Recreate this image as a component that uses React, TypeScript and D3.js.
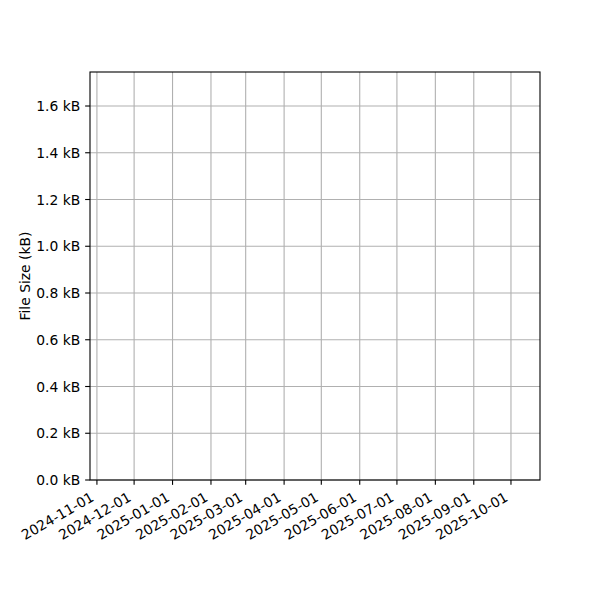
import React from "react";
import * as d3 from "d3";

// Data (the reference plot shows no visible series)
const dates: string[] = [];
const sizesKB: number[] = [];

const xTickLabels = [
  "2024-11-01", "2024-12-01", "2025-01-01", "2025-02-01", "2025-03-01", "2025-04-01",
  "2025-05-01", "2025-06-01", "2025-07-01", "2025-08-01", "2025-09-01", "2025-10-01",
];
const yTickValues = [0, 0.2, 0.4, 0.6, 0.8, 1.0, 1.2, 1.4, 1.6];
const xDomain = ["2024-10-26T10:00:00", "2025-10-24T10:00:00"];
const yDomain = [0, 1.7455];

const W = 600, H = 600;
const L = 90, R = 540, T = 72, B = 480;
const FS = 13.89;
const FONT = "DejaVu Sans, sans-serif";

export default function App() {
  const x = d3.scaleTime().domain(xDomain.map((d) => new Date(d))).range([L, R]);
  const y = d3.scaleLinear().domain(yDomain).range([B, T]);
  const line = d3
    .line<number>()
    .x((_, i) => x(new Date(dates[i])))
    .y((d) => y(d));
  const path = sizesKB.length ? line(sizesKB) : null;

  return (
    <svg width={W} height={H} style={{ position: "absolute", left: 0, top: 0 }} fontFamily={FONT}>
      <rect x={0} y={0} width={W} height={H} fill="#fff" />
      {/* grid */}
      {xTickLabels.map((t) => {
        const px = x(new Date(t + "T00:00:00"));
        return <line key={"gx" + t} x1={px} x2={px} y1={T} y2={B} stroke="#b0b0b0" strokeWidth={1.1} />;
      })}
      {yTickValues.map((v) => (
        <line key={"gy" + v} x1={L} x2={R} y1={y(v)} y2={y(v)} stroke="#b0b0b0" strokeWidth={1.1} />
      ))}
      {path && <path d={path} fill="none" stroke="#1f77b4" strokeWidth={2} />}
      {/* spines */}
      <rect x={L} y={T} width={R - L} height={B - T} fill="none" stroke="#000" strokeWidth={1.1} />
      {/* x ticks */}
      {xTickLabels.map((t) => {
        const px = x(new Date(t + "T00:00:00"));
        return (
          <g key={"xt" + t}>
            <line x1={px} x2={px} y1={B} y2={B + 4.86} stroke="#000" strokeWidth={1.1} />
            <text
              x={0}
              y={0}
              transform={`translate(${px - 2},${B + 20}) rotate(-30)`}
              textAnchor="end"
              fontSize={FS}
              fill="#000"
            >
              {t}
            </text>
          </g>
        );
      })}
      {/* y ticks */}
      {yTickValues.map((v) => (
        <g key={"yt" + v}>
          <line x1={L - 4.86} x2={L} y1={y(v)} y2={y(v)} stroke="#000" strokeWidth={1.1} />
          <text x={L - 9.7} y={y(v)} dy="0.36em" textAnchor="end" fontSize={FS} fill="#000">
            {v.toFixed(1) + " kB"}
          </text>
        </g>
      ))}
      <text
        transform={`translate(25,${(T + B) / 2}) rotate(-90)`}
        textAnchor="middle"
        dy="0.36em"
        fontSize={FS}
        fill="#000"
      >
        File Size (kB)
      </text>
    </svg>
  );
}
